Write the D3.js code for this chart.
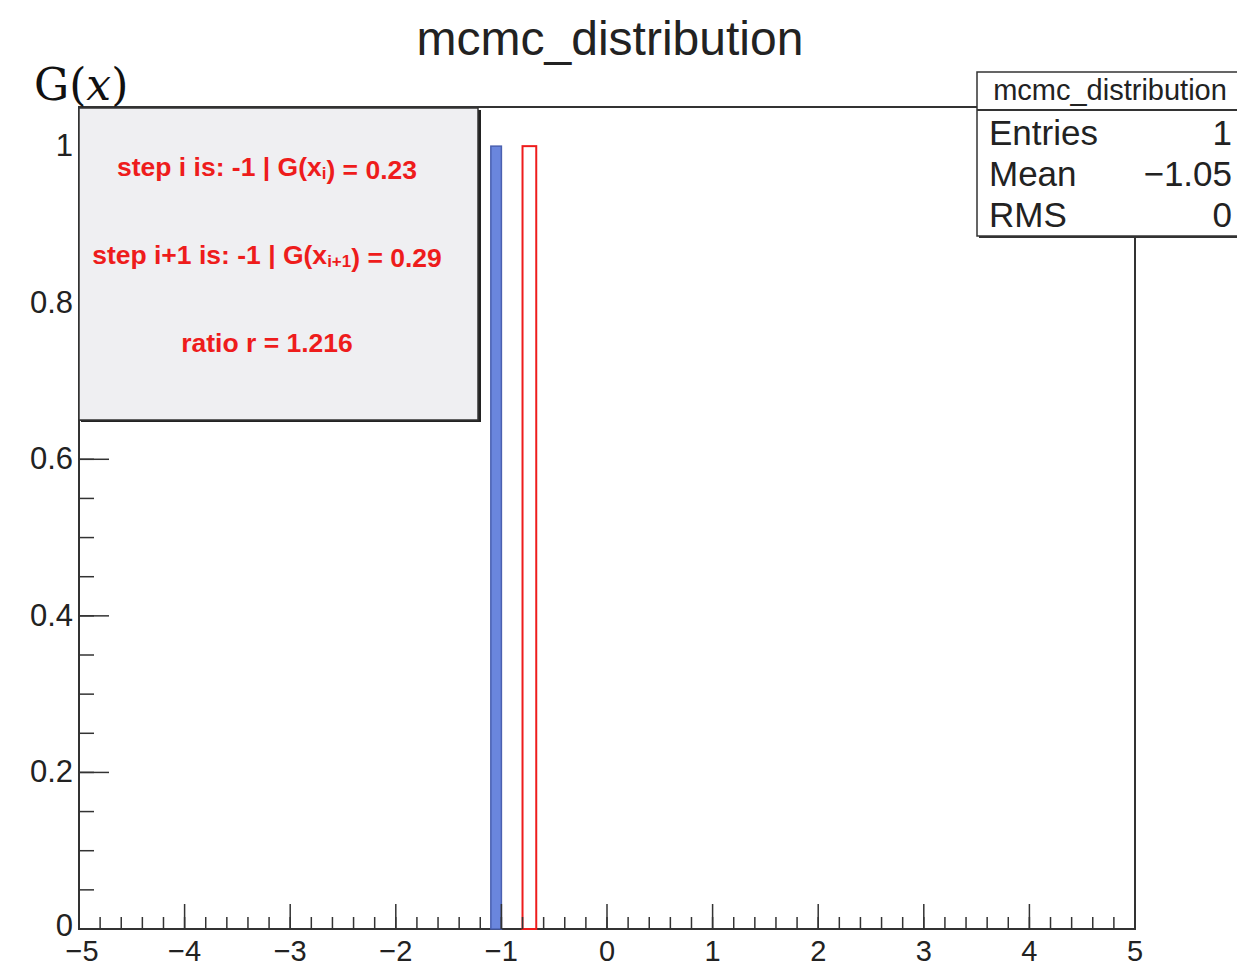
<!DOCTYPE html>
<html>
<head>
<meta charset="utf-8">
<script src="https://cdn.jsdelivr.net/npm/d3@7"></script>
<style>
  body { margin: 0; background: #fff; }
  svg { display: block; font-family: "Liberation Sans", Arial, Helvetica, sans-serif; }
</style>
</head>
<body>
<div id="chart"></div>
<script>
// histogram bins (filled) and highlighted proposal bin
var binEdges = [-1.1, -1.0];
var binCounts = [1];
var markEdges = [-0.8, -0.67];
var markHeight = 1;

var xTicks = [-5, -4, -3, -2, -1, 0, 1, 2, 3, 4, 5];
var yTicks = [0, 0.2, 0.4, 0.6, 0.8, 1];

var infoLines = ['step i is: -1 | G(x_i) = 0.23', 'step i+1 is: -1 | G(x_i+1) = 0.29', 'ratio r = 1.216'];
var statNames = ['Entries', 'Mean', 'RMS'];
var statValues = ['1', '\u22121.05', '0'];

var attrs = {
    svgWidth: 1237,
    svgHeight: 967,
    marginLeft: 79,
    marginTop: 107,
    marginRight: 102,
    marginBottom: 38
};

var calc = {};
calc.chartWidth = attrs.svgWidth - attrs.marginLeft - attrs.marginRight;
calc.chartHeight = attrs.svgHeight - attrs.marginTop - attrs.marginBottom;

var x = d3.scaleLinear().domain([-5, 5]).range([0, calc.chartWidth]);
var y = d3.scaleLinear().domain([0, 1.05]).range([calc.chartHeight, 0]);

var svg = d3.select('#chart').append('svg')
    .attr('width', attrs.svgWidth)
    .attr('height', attrs.svgHeight);

var chart = svg.append('g')
    .attr('transform', 'translate(' + attrs.marginLeft + ',' + attrs.marginTop + ')');

// frame
chart.append('rect')
    .attr('width', calc.chartWidth).attr('height', calc.chartHeight)
    .attr('fill', 'none').attr('stroke', '#333').attr('stroke-width', 2);

// bars
chart.append('rect')
    .attr('x', x(binEdges[0]))
    .attr('y', y(binCounts[0]))
    .attr('width', x(binEdges[1]) - x(binEdges[0]))
    .attr('height', y(0) - y(binCounts[0]))
    .attr('fill', '#6a86dd')
    .attr('stroke', '#4a60b0').attr('stroke-width', 1.5);

chart.append('rect')
    .attr('x', x(markEdges[0]))
    .attr('y', y(markHeight))
    .attr('width', x(markEdges[1]) - x(markEdges[0]))
    .attr('height', y(0) - y(markHeight))
    .attr('fill', 'none')
    .attr('stroke', '#ee1c1c').attr('stroke-width', 2);

// x axis ticks
var xMinor = d3.range(-5, 5.001, 0.2).map(v => +v.toFixed(2));
chart.selectAll('.xminor').data(xMinor).enter().append('line')
    .attr('x1', d => x(d)).attr('x2', d => x(d))
    .attr('y1', calc.chartHeight).attr('y2', calc.chartHeight - 12)
    .attr('stroke', '#333').attr('stroke-width', 1.5);
chart.selectAll('.xmajor').data(xTicks).enter().append('line')
    .attr('x1', d => x(d)).attr('x2', d => x(d))
    .attr('y1', calc.chartHeight).attr('y2', calc.chartHeight - 25)
    .attr('stroke', '#333').attr('stroke-width', 1.5);
chart.selectAll('.xlab').data(xTicks).enter().append('text')
    .attr('x', d => x(d) + (d === -5 ? 3 : 0)).attr('y', calc.chartHeight + 32)
    .attr('text-anchor', 'middle')
    .attr('font-size', 29).attr('fill', '#222')
    .text(d => d < 0 ? '\u2212' + Math.abs(d) : d);

// y axis ticks
var yMinor = d3.range(0, 1.0001, 0.05).map(v => +v.toFixed(2));
chart.selectAll('.yminor').data(yMinor).enter().append('line')
    .attr('x1', 0).attr('x2', 15)
    .attr('y1', d => y(d)).attr('y2', d => y(d))
    .attr('stroke', '#333').attr('stroke-width', 1.5);
chart.selectAll('.ymajor').data(yTicks).enter().append('line')
    .attr('x1', 0).attr('x2', 30)
    .attr('y1', d => y(d)).attr('y2', d => y(d))
    .attr('stroke', '#333').attr('stroke-width', 1.5);
chart.selectAll('.ylab').data(yTicks).enter().append('text')
    .attr('x', -6).attr('y', d => y(d) + (d === 0 ? 7 : 10))
    .attr('text-anchor', 'end')
    .attr('font-size', 31).attr('fill', '#222')
    .text(d => d);

// info box (pave)
var info = svg.append('g').attr('transform', 'translate(79,108)');
info.append('rect')
    .attr('x', 2).attr('y', 2).attr('width', 400).attr('height', 312)
    .attr('fill', '#222');
info.append('rect')
    .attr('width', 399).attr('height', 312)
    .attr('fill', '#efeff2').attr('stroke', '#333').attr('stroke-width', 1.5);

var infoY = [59, 147, 235];
infoLines.forEach(function (line, i) {
    var t = info.append('text')
        .attr('x', 188).attr('y', infoY[i] + 9)
        .attr('text-anchor', 'middle')
        .attr('font-size', 26.5).attr('font-weight', 'bold')
        .attr('fill', '#ee1c1c');
    var parts = line.split(/(_i\+1|_i)/);
    parts.forEach(function (p) {
        if (p === '_i' || p === '_i+1') {
            t.append('tspan').attr('font-size', 17).attr('dy', 3).text(p.slice(1));
            t.append('tspan').attr('dy', -3).text('');
        } else {
            t.append('tspan').text(p);
        }
    });
});

// title
svg.append('text')
    .attr('x', 610).attr('y', 55)
    .attr('text-anchor', 'middle')
    .attr('font-size', 48).attr('fill', '#222')
    .text('mcmc_distribution');

// y title
var yt = svg.append('text')
    .attr('x', 34).attr('y', 100)
    .attr('font-family', '"DejaVu Serif", "Liberation Serif", serif')
    .attr('font-size', 44).attr('fill', '#111');
yt.append('tspan').text('G');
yt.append('tspan').text('(');
yt.append('tspan').attr('font-style', 'italic').text('x');
yt.append('tspan').text(')');

// stats box
var stats = svg.append('g').attr('transform', 'translate(977,72)');
stats.append('rect')
    .attr('x', 2).attr('y', 2).attr('width', 270).attr('height', 164)
    .attr('fill', '#333');
stats.append('rect')
    .attr('width', 270).attr('height', 164)
    .attr('fill', '#fff').attr('stroke', '#333').attr('stroke-width', 1.5);
stats.append('line')
    .attr('x1', 0).attr('x2', 270).attr('y1', 38).attr('y2', 38)
    .attr('stroke', '#333').attr('stroke-width', 2);
stats.append('text')
    .attr('x', 133).attr('y', 28)
    .attr('text-anchor', 'middle')
    .attr('font-size', 29).attr('fill', '#222')
    .text('mcmc_distribution');
var rowY = [73, 114, 155];
statNames.forEach(function (n, i) {
    stats.append('text')
        .attr('x', 12).attr('y', rowY[i])
        .attr('font-size', 35).attr('fill', '#222')
        .text(n);
    stats.append('text')
        .attr('x', 255).attr('y', rowY[i])
        .attr('text-anchor', 'end')
        .attr('font-size', 35).attr('fill', '#222')
        .text(statValues[i]);
});
</script>
</body>
</html>
